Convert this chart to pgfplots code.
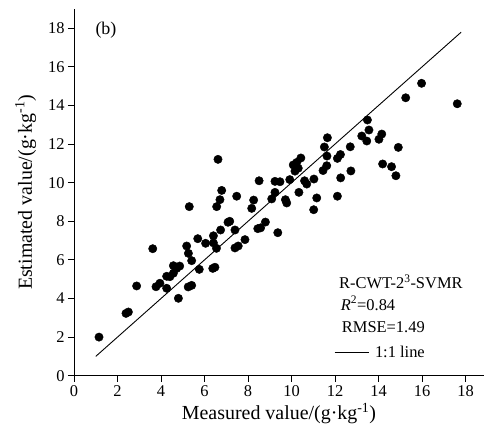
\documentclass[border=0pt]{standalone}
\usepackage{fontspec}
\setmainfont{Liberation Serif}
\usepackage{pgfplots}
\pgfplotsset{compat=1.18}
\begin{document}
\begin{tikzpicture}
\begin{axis}[
  scale only axis, width=410bp, height=366.7bp,
  xmin=0, xmax=18.85, ymin=0, ymax=19,
  axis x line=bottom, axis y line=left,
  axis line style={-, line width=1pt},
  xtick={0,2,...,18}, ytick={0,2,...,18},
  tick align=outside, major tick length=6bp,
  tick style={line width=1pt, black},
  ticklabel style={font=\fontsize{16.5}{18}\selectfont},
  /pgf/number format/assume math mode=true,
  xlabel={Measured value/(g·kg\textsuperscript{-1})},
  ylabel={Estimated value/(g·kg\textsuperscript{-1})},
  label style={font=\fontsize{20}{22}\selectfont},
  ylabel style={yshift=5bp},
  clip=false,
  legend style={draw=none, fill=none, at={(axis cs:11.95,1.19)}, anchor=west,
    inner sep=0pt, column sep=6bp, font=\fontsize{16.5}{18}\selectfont,
    nodes={inner sep=0pt}},
  legend image code/.code={\draw[line width=0.9pt] (0,0) -- (34bp,0);},
]
\addplot[only marks, mark=*, mark size=4.2bp, black, forget plot] coordinates {
(1.15,2.0) (2.39,3.23) (2.5,3.3) (2.88,4.65) (3.62,6.58) (3.77,4.61)
(3.95,4.79) (4.26,4.53) (4.26,5.15) (4.41,5.13) (4.57,5.31) (4.57,5.7)
(4.72,5.56) (4.86,5.68) (4.8,4.01) (5.18,6.72) (5.26,6.34) (5.41,5.96)
(5.3,8.76) (5.25,4.6) (5.41,4.68) (5.76,5.51) (5.69,7.1) (6.05,6.86)
(6.41,7.25) (6.41,6.88) (6.55,6.6) (6.38,5.56) (6.48,5.62) (6.56,8.76)
(6.71,9.12) (6.79,9.6) (6.62,11.21) (6.74,7.55) (7.08,7.95) (7.16,8.0)
(7.4,7.55) (7.4,6.62) (7.55,6.72) (7.86,7.05) (7.48,9.3) (8.17,8.67)
(8.26,9.1) (8.45,7.62) (8.58,7.66) (8.8,7.96) (8.51,10.1) (9.09,9.16)
(9.24,9.5) (9.37,7.41) (9.24,10.07) (9.47,10.05) (9.72,9.12) (9.78,8.95)
(9.92,10.16) (10.08,10.92) (10.24,11.05) (10.43,11.28) (10.31,10.75) (10.16,10.6)
(10.6,10.1) (10.7,9.93) (10.34,9.5) (11.03,10.19) (11.45,10.63) (11.62,10.88)
(11.16,9.21) (11.02,8.6) (12.11,9.3) (11.63,11.38) (12.11,11.26) (12.25,11.46)
(11.51,11.85) (11.65,12.33) (12.7,11.86) (12.73,10.61) (12.26,10.25) (13.49,13.25)
(13.56,12.73) (13.23,12.42) (13.46,12.16) (14.15,12.52) (14.02,12.25) (14.91,11.83)
(14.19,10.97) (14.6,10.83) (14.8,10.36) (15.25,14.4) (15.98,15.15) (17.62,14.09)
};
\addplot[black, line width=0.9pt] coordinates {(1,1) (17.8,17.8)};
\addlegendentry{1:1 line}
\node[anchor=center, font=\fontsize{18}{20}\selectfont] at (axis cs:1.47,17.9) {(b)};
\node[anchor=west, font=\fontsize{16.5}{18}\selectfont, inner sep=0pt] at (axis cs:12.18,4.87) {R-CWT-2\textsuperscript{3}-SVMR};
\node[anchor=west, font=\fontsize{16.5}{18}\selectfont, inner sep=0pt] at (axis cs:12.26,3.75) {\textit{R}\textsuperscript{2}=0.84};
\node[anchor=west, font=\fontsize{16.5}{18}\selectfont, inner sep=0pt] at (axis cs:12.31,2.51) {RMSE=1.49};
\end{axis}
\pgfresetboundingbox
\path (-74bp,-58.3bp) rectangle (410bp,375.7bp);
\end{tikzpicture}
\end{document}
